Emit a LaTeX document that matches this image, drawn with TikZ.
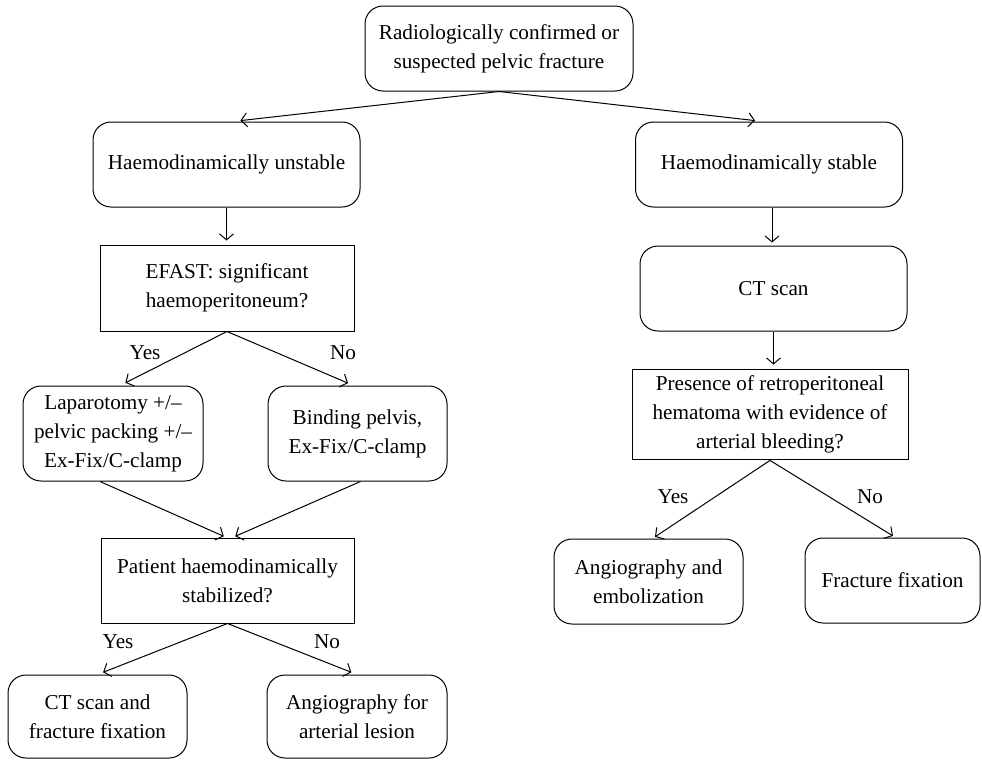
\documentclass[tikz,border=0pt]{standalone}
\usepackage{fontspec}
\setmainfont{Liberation Serif}
\usetikzlibrary{arrows.meta}
\tikzset{
  rbox/.style={draw,rounded corners=9pt,align=center,minimum height=42.5pt},
  qbox/.style={draw,rectangle,align=center,minimum height=43pt},
  arr/.style={-{Straight Barb[length=3pt,width=7pt]}},
}
\def\conn{\draw[arr]}

\begin{document}
\begin{tikzpicture}[x=0.5pt,y=-0.5pt,line width=0.5pt,font=\fontsize{10.6}{14.5}\selectfont]
\useasboundingbox (0,0) rectangle (982,761);
% left branch
\node[rbox,minimum width=134pt] (top) at (499,48.5) {Radiologically confirmed or\\suspected pelvic fracture};
\node[rbox,minimum width=133.5pt] (unst) at (226.5,164.5) {Haemodinamically unstable};
\node[qbox,minimum width=127pt] (efast) at (227,288) {EFAST: significant\\haemoperitoneum?};
\node[rbox,minimum width=90pt,minimum height=47.5pt] (lap) at (113,433.5) {Laparotomy +/\textendash\\pelvic packing +/\textendash\\Ex-Fix/C-clamp};
\node[rbox,minimum width=89.5pt,minimum height=47.5pt] (bind) at (357.5,433.5) {Binding pelvis,\\Ex-Fix/C-clamp};
\node[qbox,minimum width=126.5pt,minimum height=42.5pt] (pat) at (227.5,580.5) {Patient haemodinamically\\stabilized?};
\node[rbox,minimum width=89.5pt,minimum height=41.5pt] (ctfix) at (97.5,716.5) {CT scan and\\fracture fixation};
\node[rbox,minimum width=90pt,minimum height=41.5pt] (angl) at (357,716.5) {Angiography for\\arterial lesion};
% right branch
\node[rbox,minimum width=133.5pt] (stab) at (769,164.5) {Haemodinamically stable};
\node[rbox,minimum width=133.5pt] (ct) at (773.5,288.5) {CT scan};
\node[qbox,minimum width=138pt,minimum height=42.5pt] (pres) at (770,414.5) {Presence of retroperitoneal\\hematoma with evidence of\\arterial bleeding?};
\node[rbox,minimum width=94.5pt] (angemb) at (648.5,581.5) {Angiography and\\embolization};
\node[rbox,minimum width=87.5pt] (frac) at (892.5,580.5) {Fracture fixation};
% labels
\node (yes1) at (145,353) {Yes};
\node (no1) at (343,353) {No};
\node (yes2) at (118,642) {Yes};
\node (no2) at (327,642) {No};
\node (yes3) at (673,497) {Yes};
\node (no3) at (870,497) {No};
% connectors
\conn[shorten >=4pt] (top.south) -- ([xshift=3pt]unst.north);
\conn[shorten >=4pt] (top.south) -- ([xshift=-3pt]stab.north);
\conn[shorten >=2pt] (unst.south) -- (unst.south |- efast.north);
\conn[shorten >=3pt] (efast.south) -- ([xshift=3.5pt]lap.north);
\conn[shorten >=3pt] (efast.south) -- ([xshift=-2pt]bind.north);
\conn[shorten >=1.5pt] ([xshift=-6.5pt]lap.south) -- ([xshift=-0.5pt]pat.north);
\conn[shorten >=1.5pt] ([xshift=1.5pt]bind.south) -- ([xshift=2.5pt]pat.north);
\conn[shorten >=3pt] (pat.south) -- (ctfix.north);
\conn[shorten >=3pt] (pat.south) -- (angl.north);
\conn[shorten >=1.5pt] ([xshift=1.5pt]stab.south) -- ([xshift=1.5pt]stab.south |- ct.north);
\conn[shorten >=2pt] (ct.south) -- (ct.south |- pres.north);
\conn[shorten >=1.5pt] (pres.south) -- ([xshift=2pt]angemb.north);
\conn[shorten >=1.5pt] (pres.south) -- ([xshift=1.5pt]frac.north);
\end{tikzpicture}
\end{document}
